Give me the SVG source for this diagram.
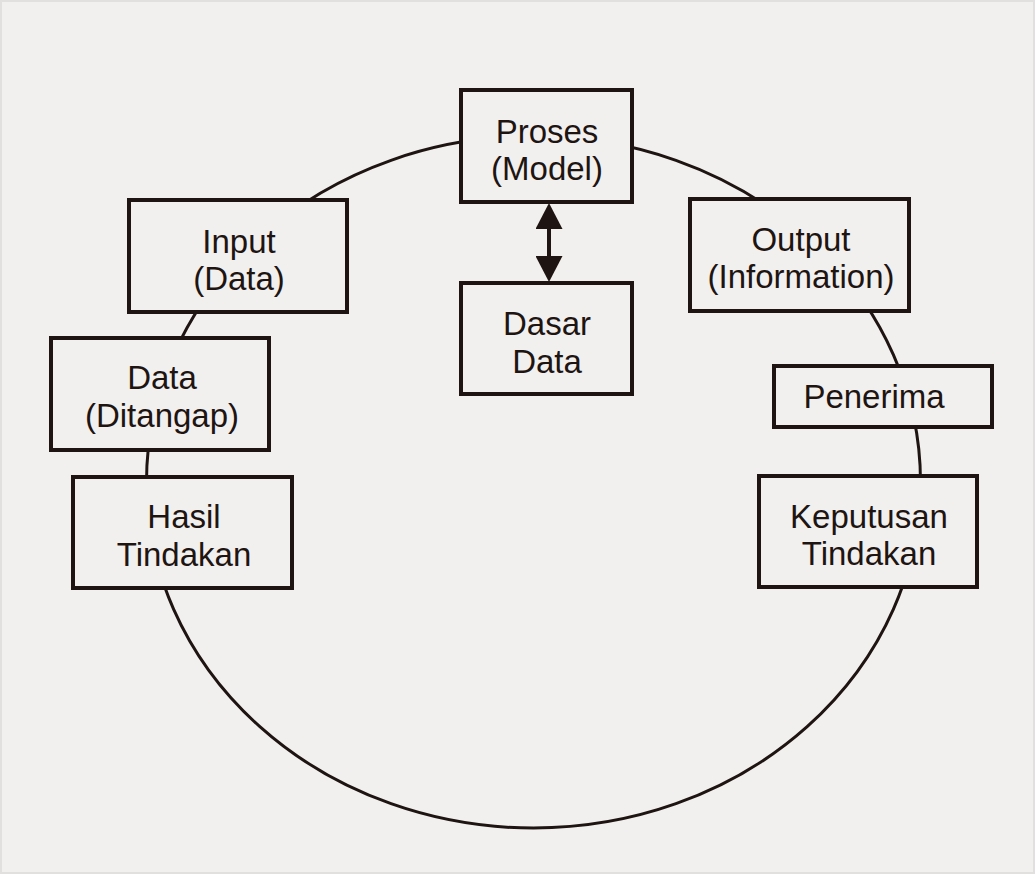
<svg xmlns="http://www.w3.org/2000/svg" width="1035" height="874" viewBox="0 0 1035 874">
  <style>
    .box { fill: #f2f0ef; stroke: #1e1512; stroke-width: 4; }
    .lbl { font-family: "Liberation Sans", Arial, sans-serif; font-size: 33px; fill: #1e1512; text-anchor: middle; }
    .ring { fill: none; stroke: #1e1512; stroke-width: 3; }
    .arrow { stroke: #1e1512; stroke-width: 4; fill: none; }
  </style>
  <defs>
    <marker id="head" viewBox="0 0 26 27" refX="0" refY="13.5" markerWidth="26" markerHeight="27" markerUnits="userSpaceOnUse" orient="auto-start-reverse">
      <path d="M0,0 L26,13.5 L0,27 Z" fill="#1e1512"/>
    </marker>
  </defs>
  <rect x="0" y="0" width="1035" height="874" fill="#f2f0ef"/>
  <rect x="1" y="1" width="1033" height="872" fill="none" stroke="#e2e0df" stroke-width="2"/>

  <g id="connectors">
    <ellipse class="ring" cx="533.5" cy="482" rx="387" ry="346"/>
    <line class="arrow" x1="549" y1="229" x2="549" y2="256" marker-start="url(#head)" marker-end="url(#head)"/>
  </g>

  <g id="proses">
    <rect class="box" x="461" y="90" width="171" height="112"/>
    <text class="lbl" x="547" y="143">Proses</text>
    <text class="lbl" x="547" y="180">(Model)</text>
  </g>
  <g id="dasar-data">
    <rect class="box" x="461" y="283" width="171" height="111"/>
    <text class="lbl" x="547" y="335">Dasar</text>
    <text class="lbl" x="547" y="373">Data</text>
  </g>
  <g id="input">
    <rect class="box" x="129" y="200" width="218" height="112"/>
    <text class="lbl" x="239" y="253">Input</text>
    <text class="lbl" x="239" y="290">(Data)</text>
  </g>
  <g id="data-ditangap">
    <rect class="box" x="51" y="338" width="218" height="112"/>
    <text class="lbl" x="162" y="389">Data</text>
    <text class="lbl" x="162" y="427">(Ditangap)</text>
  </g>
  <g id="hasil-tindakan">
    <rect class="box" x="73" y="477" width="219" height="111"/>
    <text class="lbl" x="184" y="528">Hasil</text>
    <text class="lbl" x="184" y="566">Tindakan</text>
  </g>
  <g id="output">
    <rect class="box" x="690" y="199" width="219" height="112"/>
    <text class="lbl" x="801" y="251">Output</text>
    <text class="lbl" x="801" y="288">(Information)</text>
  </g>
  <g id="penerima">
    <rect class="box" x="774" y="366" width="218" height="61"/>
    <text class="lbl" x="874" y="408">Penerima</text>
  </g>
  <g id="keputusan-tindakan">
    <rect class="box" x="759" y="476" width="218" height="111"/>
    <text class="lbl" x="869" y="528">Keputusan</text>
    <text class="lbl" x="869" y="565">Tindakan</text>
  </g>
</svg>
